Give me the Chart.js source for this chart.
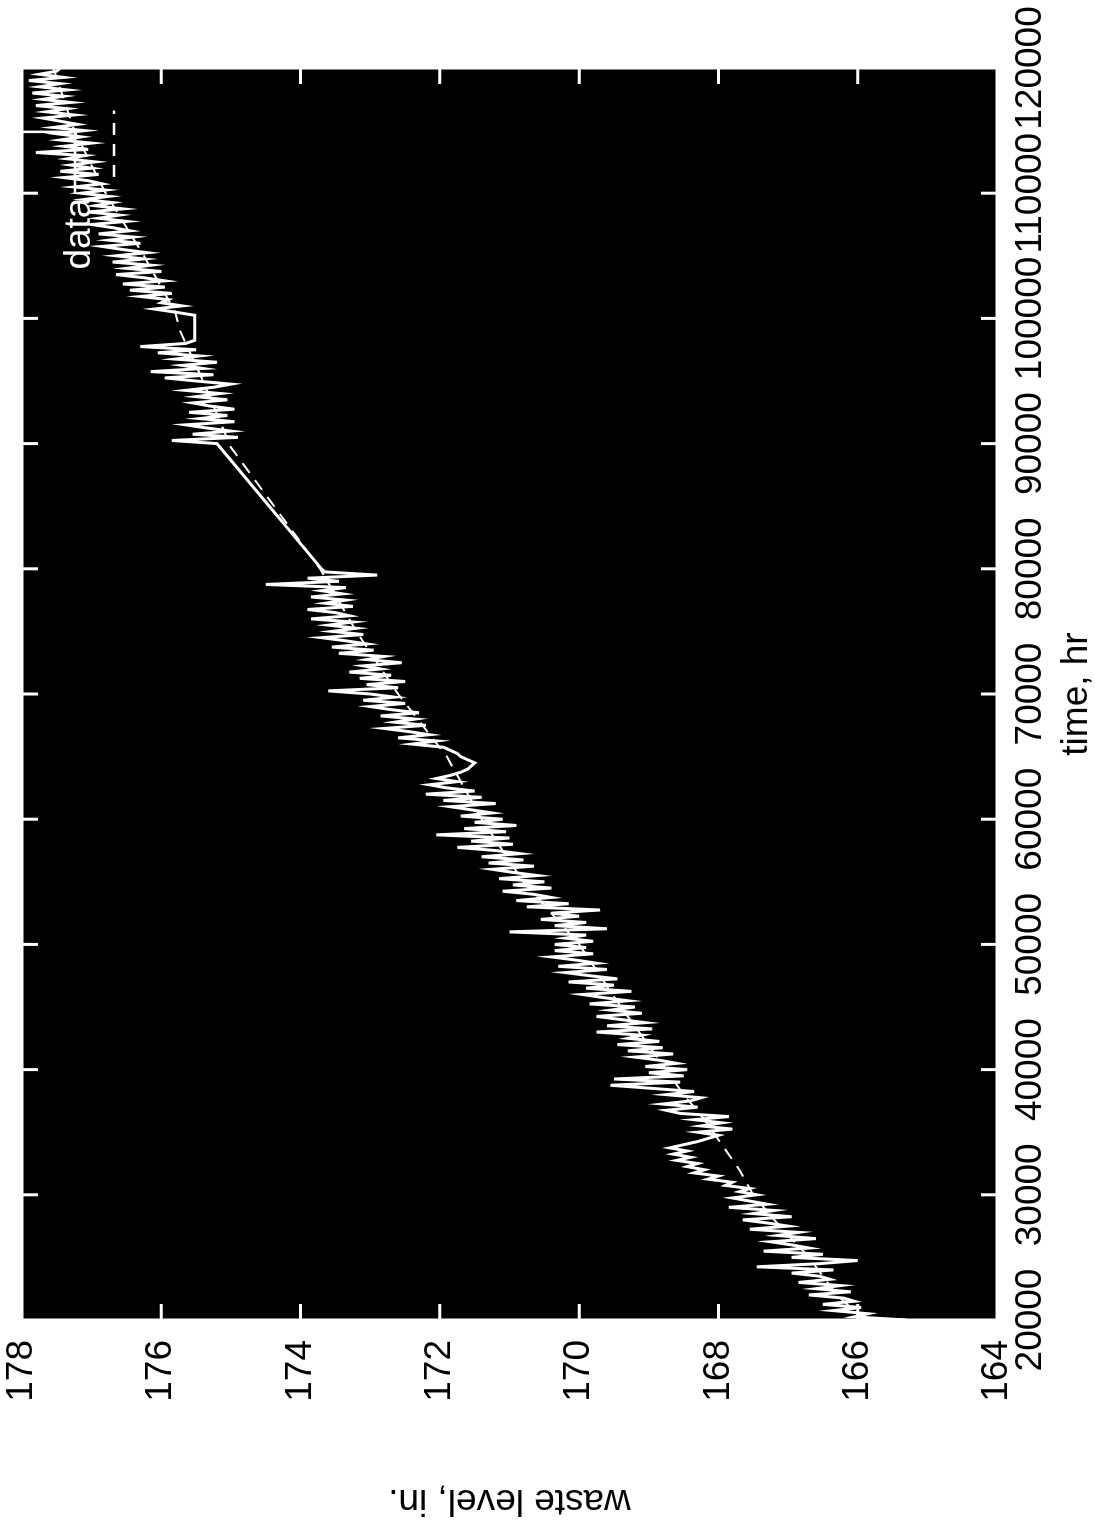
<!DOCTYPE html>
<html>
<head>
<meta charset="utf-8">
<title>waste level vs time</title>
<script src="https://cdn.jsdelivr.net/npm/chart.js@4.4.1/dist/chart.umd.min.js"></script>
<style>
  html, body { margin: 0; padding: 0; background: #fff; overflow: hidden; }
  #wrap { position: relative; width: 1095px; height: 1526px; }
  /* the plot is laid out landscape and turned a quarter-turn counter-clockwise */
  #levelChart { position: absolute; left: 0; top: 1526px; transform-origin: 0 0; transform: rotate(-90deg); }
</style>
</head>
<body>
<div id="wrap"><canvas id="levelChart" width="1526" height="1095"></canvas></div>
<script>
/* axis ticks */
const timeTicks = [20000, 30000, 40000, 50000, 60000, 70000, 80000, 90000, 100000, 110000, 120000];
const levelTicks = [164, 166, 168, 170, 172, 174, 176, 178];

/* measured level, first run: 20000-80000 hr, one reading every 250 hr */
const earlyStart = 20000;
const lateStart = 90000;
const sampleStep = 250;
const earlyLevels = [
  165.30, 166.05, 165.85, 166.35, 165.95, 166.50, 166.05, 166.20, 166.70, 166.10, 166.60, 166.25, 166.85, 166.40, 166.55, 166.95, 166.35, 167.45, 166.55, 166.00,
  166.95, 166.50, 167.35, 166.70, 166.95, 167.25, 166.60, 167.15, 166.85, 167.55, 167.00, 167.30, 167.65, 166.95, 167.50, 167.20, 167.85, 167.30, 167.55, 167.80,
  167.45, 167.70, 167.55, 167.90, 167.80, 168.15, 168.00, 168.35, 168.20, 168.45, 168.30, 168.60, 168.40, 168.65, 168.45, 168.70, 168.50, 168.30, 168.15, 168.00,
  168.30, 167.80, 168.25, 167.95, 168.35, 167.85, 168.55, 168.75, 168.30, 168.80, 168.40, 168.25, 168.75, 168.35, 168.95, 169.55, 168.55, 169.50, 168.50, 169.00,
  168.45, 169.05, 168.60, 168.85, 169.20, 168.65, 169.30, 168.80, 169.45, 168.85, 169.30, 169.10, 169.75, 168.95, 169.60, 169.05, 169.40, 169.75, 169.10, 169.55,
  169.20, 169.85, 169.30, 169.65, 169.95, 169.25, 169.90, 169.50, 170.15, 169.45, 169.85, 170.20, 169.60, 170.30, 169.75, 170.05, 170.40, 169.80, 170.35, 169.90,
  170.35, 169.80, 170.20, 169.90, 171.00, 169.60, 170.35, 169.90, 170.55, 170.00, 170.40, 169.70, 170.75, 170.15, 170.90, 170.40, 170.65, 171.10, 170.40, 170.95,
  170.50, 171.15, 170.60, 170.95, 171.25, 170.65, 171.30, 170.80, 171.40, 170.85, 171.20, 171.75, 170.95, 171.55, 171.00, 172.05, 171.05, 171.65, 170.90, 171.50,
  171.10, 171.70, 171.25, 171.55, 171.85, 171.20, 171.95, 171.40, 172.20, 171.50, 171.90, 172.15, 171.75, 172.05, 171.85, 171.70, 171.60, 171.55, 171.50, 171.60,
  171.70, 171.75, 171.85, 171.95, 172.40, 172.05, 172.60, 172.15, 172.45, 172.80, 172.20, 172.65, 172.35, 172.85, 172.30, 172.70, 173.00, 172.50, 173.10, 172.65,
  173.00, 173.60, 172.60, 173.05, 172.50, 173.15, 172.70, 173.30, 172.85, 173.10, 172.55, 173.05, 172.80, 173.45, 172.95, 173.55, 173.05, 173.35, 173.70, 173.10,
  173.55, 173.20, 173.60, 173.25, 173.85, 173.30, 173.50, 173.90, 173.25, 173.65, 173.35, 173.85, 173.40, 173.70, 173.35, 174.50, 173.45, 173.90, 172.90, 173.65,
  173.70
];
/* second run: 90000-120000 hr (flat stretch where the gauge held) */
const lateLevels = [
  175.20, 175.85, 174.90, 175.55, 175.00, 175.35, 175.65, 174.95, 175.45, 175.05, 175.60, 174.95, 175.30, 175.55, 175.05, 175.50, 175.15, 175.65, 175.25, 175.00,
  175.50, 175.95, 175.25, 176.15, 175.40, 175.70, 175.20, 175.80, 175.45, 176.05, 175.50, 176.30, 175.65, 175.52, 175.52, 175.52, 175.52, 175.52, 175.52, 175.52,
  175.52, 175.52, 175.80, 176.10, 175.70, 176.00, 175.90, 176.30, 175.85, 176.45, 175.95, 176.55, 175.95, 176.25, 176.65, 176.00, 176.50, 176.15, 176.70, 176.25,
  176.65, 176.20, 176.55, 176.85, 176.30, 176.75, 176.40, 176.90, 176.45, 176.70, 177.00, 176.50, 176.90, 176.60, 177.05, 176.55, 176.95, 176.70, 177.10, 176.75,
  177.15, 176.80, 177.25, 176.85, 177.05, 177.40, 176.90, 177.45, 177.00, 177.30, 176.95, 177.35, 177.10, 177.80, 177.05, 177.40, 177.00, 177.45, 177.15, 177.50,
  177.10, 177.55, 177.20, 177.45, 177.70, 177.25, 177.65, 177.35, 177.80, 177.30, 177.70, 177.40, 177.85, 177.35, 177.75, 177.45, 177.90, 177.40, 177.75, 177.50,
  177.45
];

/* fitted trend (dashed) */
const modelTimes = [20000, 22000, 25000, 28000, 30000, 32000, 34000, 36000, 38000, 40000, 45000, 50000, 55000, 60000, 65000, 70000, 75000, 80000, 89700, 95000, 99000, 100500, 105000, 110000, 115000, 120000];
const modelLevels = [165.9, 166.3, 166.7, 167.2, 167.5, 167.7, 167.95, 168.2, 168.5, 168.75, 169.4, 170.0, 170.8, 171.4, 171.9, 172.6, 173.2, 173.72, 175.0, 175.4, 175.73, 175.8, 176.25, 176.8, 177.25, 177.55];

const FONT = "'Liberation Sans', Arial, Helvetica, sans-serif";

const measured = [];
earlyLevels.forEach((v, i) => measured.push({x: earlyStart + i * sampleStep, y: v}));
lateLevels.forEach((v, i) => measured.push({x: lateStart + i * sampleStep, y: v}));
const fitted = modelTimes.map((t, i) => ({x: t, y: modelLevels[i]}));

// black plotting field, white frame with inward ticks, legend inside the field
const plotFrame = {
  id: 'plotFrame',
  beforeDatasetsDraw(chart) {
    const {ctx, chartArea: a} = chart;
    ctx.save();
    ctx.fillStyle = '#000';
    ctx.fillRect(a.left, a.top, a.right - a.left, a.bottom - a.top);
    ctx.restore();
  },
  afterDatasetsDraw(chart) {
    const {ctx, chartArea: a, scales: {x, y}} = chart;
    const tick = 16;
    ctx.save();
    ctx.strokeStyle = '#fff';
    ctx.lineWidth = 3;
    ctx.strokeRect(a.left, a.top, a.right - a.left, a.bottom - a.top);
    ctx.beginPath();
    timeTicks.slice(1, -1).forEach(t => {
      const px = x.getPixelForValue(t);
      ctx.moveTo(px, a.bottom); ctx.lineTo(px, a.bottom - tick);
      ctx.moveTo(px, a.top); ctx.lineTo(px, a.top + tick);
    });
    levelTicks.slice(1, -1).forEach(v => {
      const py = y.getPixelForValue(v);
      ctx.moveTo(a.left, py); ctx.lineTo(a.left + tick, py);
      ctx.moveTo(a.right, py); ctx.lineTo(a.right - tick, py);
    });
    ctx.stroke();

    // legend
    ctx.fillStyle = '#fff';
    ctx.font = '37px ' + FONT;
    ctx.textBaseline = 'alphabetic';
    ctx.fillText('data', x.getPixelForValue(103900), y.getPixelForValue(177.02));
    ctx.lineWidth = 2.5;
    ctx.beginPath();
    ctx.moveTo(x.getPixelForValue(110000), y.getPixelForValue(177.24));
    ctx.lineTo(x.getPixelForValue(114900), y.getPixelForValue(177.24));
    ctx.lineTo(x.getPixelForValue(114900), y.getPixelForValue(178));
    ctx.stroke();
    ctx.setLineDash([12, 9]);
    ctx.beginPath();
    ctx.moveTo(x.getPixelForValue(111300), y.getPixelForValue(176.68));
    ctx.lineTo(x.getPixelForValue(116600), y.getPixelForValue(176.68));
    ctx.stroke();
    ctx.restore();
  }
};

new Chart(document.getElementById('levelChart'), {
  type: 'scatter',
  data: {
    datasets: [
      {label: 'data', data: measured, showLine: true, borderColor: '#fff', borderWidth: 3, pointRadius: 0, tension: 0},
      {label: 'model', data: fitted, showLine: true, borderColor: '#fff', borderWidth: 2, borderDash: [12, 9], pointRadius: 0, tension: 0}
    ]
  },
  options: {
    responsive: false,
    animation: false,
    devicePixelRatio: 1,
    layout: {padding: {top: 22, right: 68, bottom: 0, left: 0}},
    plugins: {legend: {display: false}, tooltip: {enabled: false}},
    scales: {
      x: {
        type: 'linear', min: 20000, max: 120000,
        afterBuildTicks: s => { s.ticks = timeTicks.map(v => ({value: v})); },
        afterFit: s => { s.height = 98; s.paddingLeft = 0; s.paddingRight = 0; },
        grid: {display: false, drawTicks: false},
        border: {display: false},
        ticks: {color: '#000', font: {family: FONT, size: 37}, padding: 12, maxRotation: 0, autoSkip: false, callback: v => String(v)},
        title: {display: true, text: 'time, hr', color: '#000', font: {family: FONT, size: 37, lineHeight: 1}, padding: {top: 0, bottom: 0}}
      },
      y: {
        type: 'linear', min: 164, max: 178,
        afterBuildTicks: s => { s.ticks = levelTicks.map(v => ({value: v})); },
        afterFit: s => { s.width = 206; s.paddingTop = 0; s.paddingBottom = 0; },
        grid: {display: false, drawTicks: false},
        border: {display: false},
        ticks: {color: '#000', font: {family: FONT, size: 37}, padding: 20, autoSkip: false, callback: v => String(v)},
        title: {display: true, text: 'waste level, in.', color: '#000', font: {family: FONT, size: 37}, padding: {top: 4, bottom: 4}}
      }
    }
  },
  plugins: [plotFrame]
});
</script>
</body>
</html>
